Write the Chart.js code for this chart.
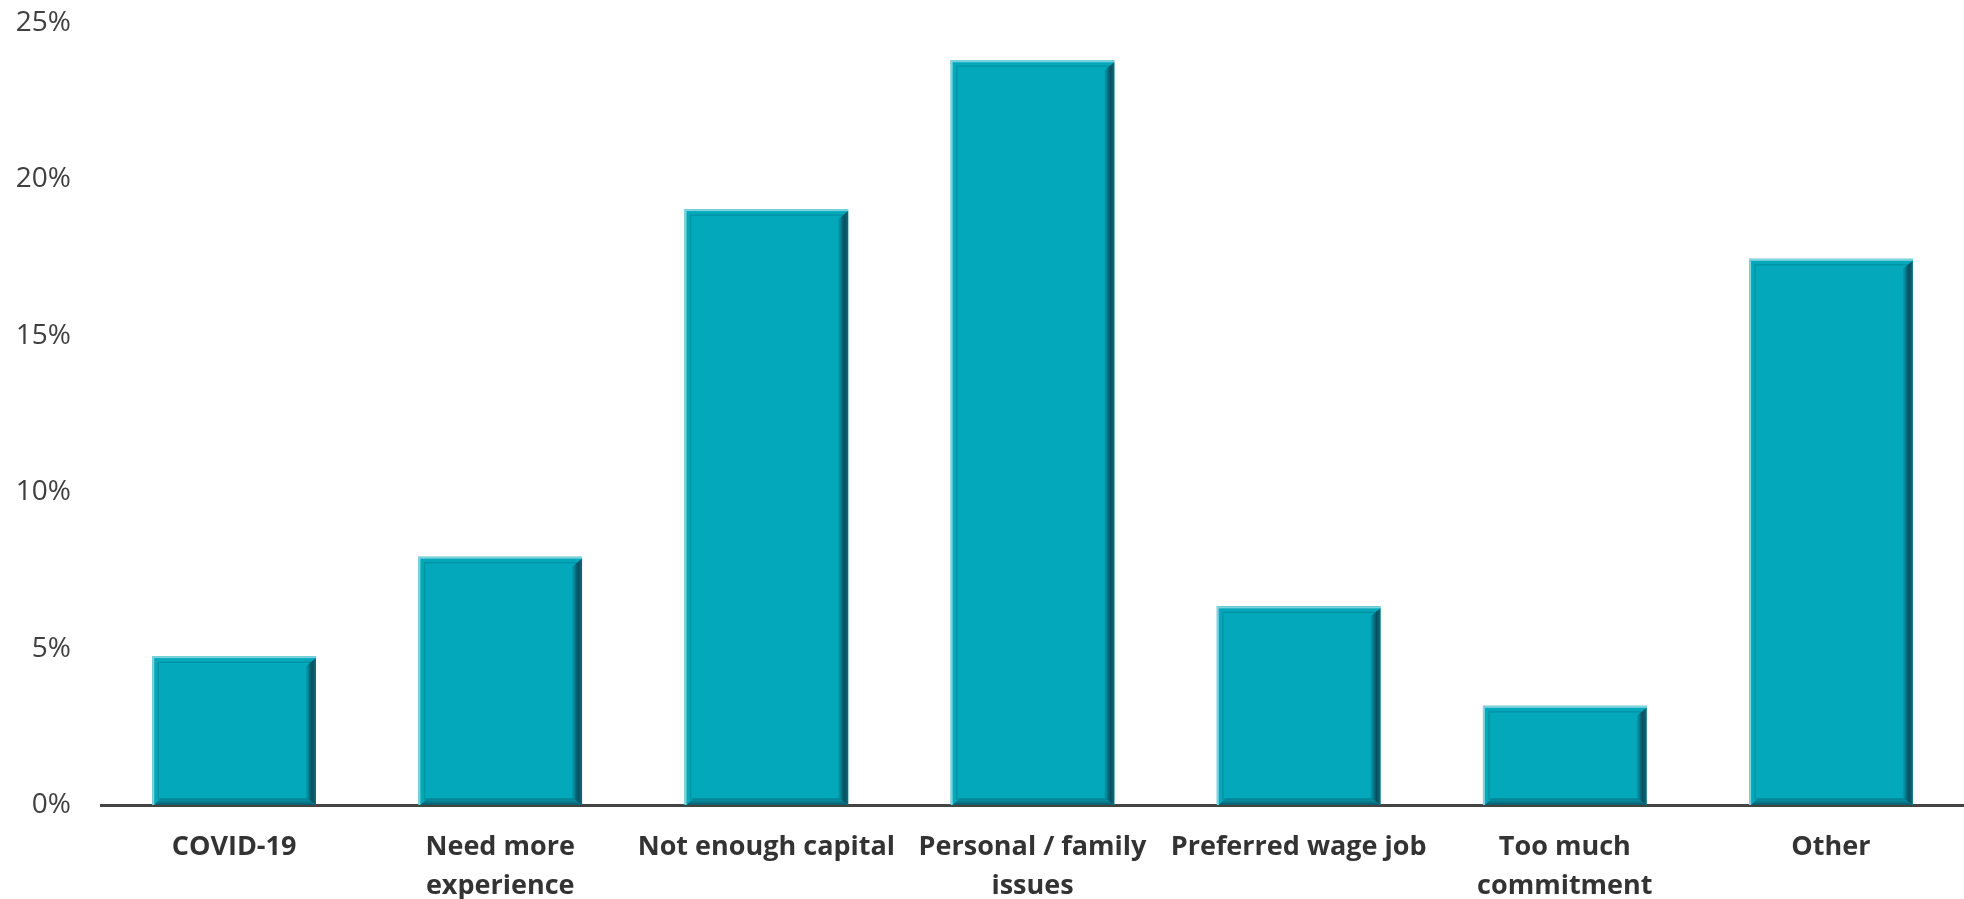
<!DOCTYPE html>
<html>
<head>
<meta charset="utf-8">
<script src="https://cdn.jsdelivr.net/npm/chart.js@4/dist/chart.umd.min.js"></script>
<style>
  html, body { margin: 0; padding: 0; background: #fff; }
  #wrap { width: 1964px; height: 899px; }
</style>
</head>
<body>
<div id="wrap"><canvas id="reasonsChart"></canvas></div>
<script>
// reasons for not starting a business (share of respondents, %)
const reasons = [
    'COVID-19',
    ['Need more', 'experience'],
    'Not enough capital',
    ['Personal / family', 'issues'],
    'Preferred wage job',
    ['Too much', 'commitment'],
    'Other'
];
const shares = [4.76, 7.94, 19.05, 23.81, 6.35, 3.17, 17.46];
const yTicks = [0, 5, 10, 15, 20, 25];

const barColor = '#04a8bb';

// shaded bevel edges around each bar
const bevelPlugin = {
    id: 'bevel',
    afterDatasetsDraw(chart) {
        const ctx = chart.ctx;
        chart.getDatasetMeta(0).data.forEach(bar => {
            const left = bar.x - bar.width / 2;
            const right = bar.x + bar.width / 2;
            const top = bar.y;
            const bottom = bar.base;
            ctx.save();
            // light top and left rim
            ctx.fillStyle = '#7fd3dd';
            ctx.fillRect(left, top, right - left, 2);
            ctx.fillRect(left, top, 2, bottom - top);
            // soft inner frame
            ctx.strokeStyle = 'rgba(0, 90, 105, 0.25)';
            ctx.lineWidth = 1.5;
            ctx.strokeRect(left + 6, top + 6, right - left - 12, bottom - top - 12);
            // dark right edge
            let g = ctx.createLinearGradient(right - 10, 0, right, 0);
            g.addColorStop(0, 'rgba(2, 110, 125, 0.2)');
            g.addColorStop(0.6, '#0a4e5e');
            g.addColorStop(1, '#0e6b7a');
            ctx.fillStyle = g;
            ctx.beginPath();
            ctx.moveTo(right - 10, top + 10);
            ctx.lineTo(right, top + 2);
            ctx.lineTo(right, bottom);
            ctx.lineTo(right - 10, bottom - 7);
            ctx.closePath();
            ctx.fill();
            // dark bottom edge
            g = ctx.createLinearGradient(0, bottom - 7, 0, bottom);
            g.addColorStop(0, 'rgba(2, 110, 125, 0.2)');
            g.addColorStop(1, '#0b5868');
            ctx.fillStyle = g;
            ctx.beginPath();
            ctx.moveTo(left + 2, bottom);
            ctx.lineTo(left + 9, bottom - 7);
            ctx.lineTo(right - 10, bottom - 7);
            ctx.lineTo(right, bottom);
            ctx.closePath();
            ctx.fill();
            ctx.restore();
        });
    }
};

const ctx = document.getElementById('reasonsChart').getContext('2d');
new Chart(ctx, {
    type: 'bar',
    data: {
        labels: reasons,
        datasets: [{
            data: shares,
            backgroundColor: barColor,
            borderWidth: 0,
            barPercentage: 0.615,
            categoryPercentage: 1
        }]
    },
    options: {
        responsive: true,
        maintainAspectRatio: false,
        animation: false,
        layout: { padding: { top: 23, right: 0, left: 0, bottom: 0 } },
        plugins: {
            legend: { display: false },
            tooltip: { enabled: false }
        },
        scales: {
            x: {
                grid: { display: false, drawTicks: false },
                border: { display: true, color: '#444444', width: 3 },
                ticks: {
                    color: '#333333',
                    padding: 23,
                    maxRotation: 0,
                    autoSkip: false,
                    font: { family: 'Open Sans', size: 27, weight: 'bold', lineHeight: 1.45 }
                },
                afterFit(scale) {
                    scale.height = 94;
                    scale.paddingLeft = 0;
                    scale.paddingRight = 0;
                }
            },
            y: {
                min: 0,
                max: 25,
                grid: { display: false, drawTicks: false },
                border: { display: false },
                afterBuildTicks(scale) {
                    scale.ticks = yTicks.map(v => ({ value: v }));
                },
                ticks: {
                    color: '#404040',
                    padding: 30,
                    font: { family: 'Open Sans', size: 28 },
                    callback: v => v + '%'
                },
                afterFit(scale) {
                    scale.width = 101;
                    scale.paddingTop = 0;
                    scale.paddingBottom = 0;
                }
            }
        }
    },
    plugins: [bevelPlugin]
});
</script>
</body>
</html>
